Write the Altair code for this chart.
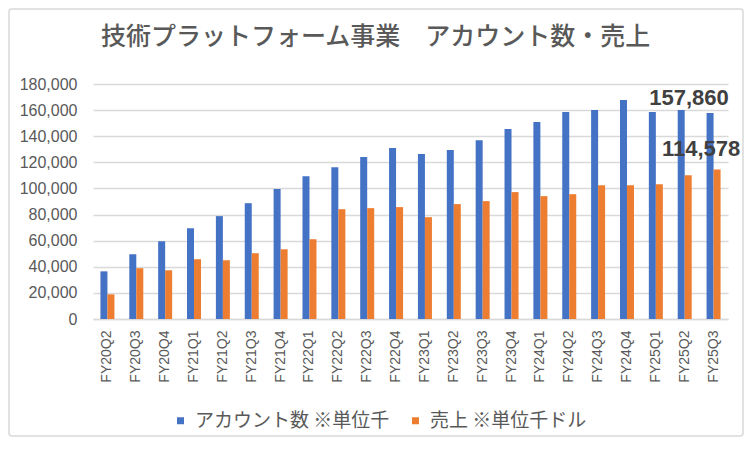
import altair as alt
import pandas as pd

title_text = "技術プラットフォーム事業　アカウント数・売上"
series_names = ["アカウント数 ※単位千", "売上 ※単位千ドル"]
series_colors = ["#4472C4", "#ED7D31"]

quarters = ["FY20Q2", "FY20Q3", "FY20Q4",
            "FY21Q1", "FY21Q2", "FY21Q3", "FY21Q4",
            "FY22Q1", "FY22Q2", "FY22Q3", "FY22Q4",
            "FY23Q1", "FY23Q2", "FY23Q3", "FY23Q4",
            "FY24Q1", "FY24Q2", "FY24Q3", "FY24Q4",
            "FY25Q1", "FY25Q2", "FY25Q3"]
accounts = [36500, 49600, 59600,
            69500, 78800, 88700, 99500,
            109400, 116300, 124000, 130900,
            126300, 129400, 137000, 145500,
            150800, 158500, 160000, 167700,
            158500, 160000, 157860]
revenue = [18900, 38900, 37300,
           45800, 45000, 50400, 53400,
           61100, 84100, 84900, 85700,
           78000, 88000, 90300, 97200,
           94100, 95600, 102500, 102500,
           103300, 110200, 114578]
y_ticks = [0, 20000, 40000, 60000, 80000, 100000, 120000, 140000, 160000, 180000]
labelled_quarter = "FY25Q3"

df = pd.DataFrame({
    "quarter": quarters * 2,
    "series": [series_names[0]] * len(quarters) + [series_names[1]] * len(quarters),
    "value": accounts + revenue,
})

LATIN = "Liberation Sans"
CJK = "Noto Sans CJK JP"
GRAY = "#595959"
GRID = "#d9d9d9"

x_enc = alt.X(
    "quarter:N", sort=quarters, title=None,
    scale=alt.Scale(paddingInner=0.515, paddingOuter=0.2575),
    axis=alt.Axis(labelAngle=-90, labelFont=LATIN, labelFontSize=14,
                  labelColor=GRAY, labelPadding=11, ticks=False,
                  domainColor=GRID, domainWidth=1.5, grid=False),
)
xo_enc = alt.XOffset("series:N", sort=series_names,
                     scale=alt.Scale(paddingInner=0, paddingOuter=0))
y_enc = alt.Y(
    "value:Q", title=None,
    scale=alt.Scale(domain=[0, 180000], nice=False),
    axis=alt.Axis(values=y_ticks, format=",.0f", labelFont=LATIN, labelFontSize=16,
                  labelColor=GRAY, labelPadding=16, ticks=False, domain=False,
                  gridColor=GRID, gridWidth=1.5),
)

base = alt.Chart(df)

bars = base.mark_bar().encode(
    x=x_enc,
    xOffset=xo_enc,
    y=y_enc,
    color=alt.Color(
        "series:N",
        scale=alt.Scale(domain=series_names, range=series_colors),
        legend=alt.Legend(
            title=None, orient="none", direction="horizontal",
            legendX=78, legendY=327,
            symbolType="square", symbolSize=49, symbolStrokeWidth=0,
            labelFont=CJK, labelFontSize=19, labelColor=GRAY,
            labelOffset=5, columnPadding=16, labelLimit=400,
        ),
    ),
)

label_style = dict(baseline="alphabetic", align="center", fontSize=22,
                   fontWeight="bold", font=LATIN, color="#404040")

acc_label = base.transform_filter(
    (alt.datum.quarter == labelled_quarter) & (alt.datum.series == series_names[0])
).mark_text(dx=-21, dy=-8, **label_style).encode(
    x=x_enc, xOffset=xo_enc, y=y_enc, text=alt.Text("value:Q", format=",")
)

rev_label = base.transform_filter(
    (alt.datum.quarter == labelled_quarter) & (alt.datum.series == series_names[1])
).mark_text(dx=-16, dy=-13, **label_style).encode(
    x=x_enc, xOffset=xo_enc, y=y_enc, text=alt.Text("value:Q", format=",")
)

title_mark = alt.Chart(pd.DataFrame({"t": [title_text]})).mark_text(
    font=CJK, fontSize=25, fontWeight=500, color=GRAY, align="center",
    baseline="alphabetic"
).encode(x=alt.value(282.5), y=alt.value(-39), text="t:N")

border = alt.Chart(pd.DataFrame({"b": [0]})).mark_rect(
    fillOpacity=0, stroke=GRID, strokeWidth=1.5, cornerRadius=3
).encode(x=alt.value(-84), x2=alt.value(650), y=alt.value(-75), y2=alt.value(352))

chart = alt.layer(border, bars, acc_label, rev_label, title_mark).properties(
    width=635, height=235,
    padding={"left": 85, "top": 76, "right": 16, "bottom": 118},
    autosize=alt.AutoSizeParams(type="none"),
).configure_view(stroke=None)

chart.save("out.html", embed_options={"renderer": "svg", "actions": False})
